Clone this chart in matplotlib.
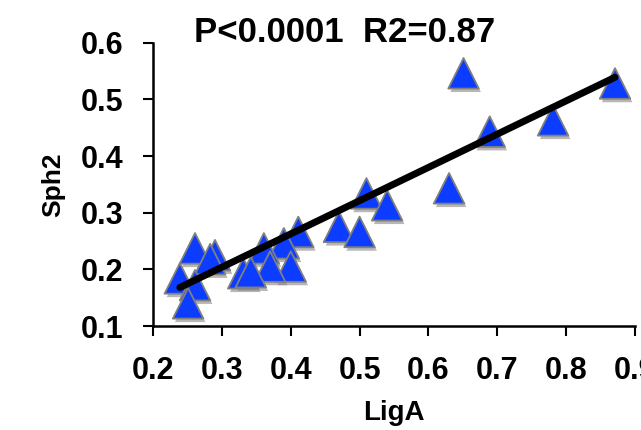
import numpy as np
import matplotlib.pyplot as plt
import matplotlib.patheffects as pe

# values
liga = [0.651, 0.871, 0.689, 0.781, 0.630, 0.510, 0.540, 0.470, 0.500, 0.411,
        0.390, 0.361, 0.400, 0.370, 0.331, 0.342, 0.261, 0.290, 0.283, 0.239,
        0.261, 0.251]
sph2 = [0.546, 0.528, 0.443, 0.463, 0.343, 0.334, 0.313, 0.275, 0.266, 0.266,
        0.246, 0.237, 0.205, 0.205, 0.193, 0.195, 0.237, 0.225, 0.218, 0.184,
        0.172, 0.140]
fit_x = [0.239, 0.871]
fit_y = [0.168, 0.539]
xticks = [0.2, 0.3, 0.4, 0.5, 0.6, 0.7, 0.8, 0.9]
yticks = [0.1, 0.2, 0.3, 0.4, 0.5, 0.6]
title = 'P<0.0001  R2=0.87'

plt.rcParams['font.family'] = ['Liberation Sans', 'DejaVu Sans']
plt.rcParams['font.weight'] = 'bold'

fig = plt.figure(figsize=(6.41, 4.30), dpi=100)
ax = fig.add_axes([153/641, 1-326/430, (635-153)/641, (326-42.7)/430])

shadow = [pe.SimplePatchShadow(offset=(1.5, -2.5), shadow_rgbFace='#888888', alpha=0.6),
          pe.Normal()]
sc = ax.scatter(liga, sph2, marker='^', s=22**2, c='#0B3CFF', edgecolors='#808080',
                linewidths=1.3, zorder=2, clip_on=False)
sc.set_path_effects(shadow)
ax.plot(fit_x, fit_y, color='black', lw=5, solid_capstyle='round', zorder=3)

ax.set_xlim(0.2, 0.9)
ax.set_ylim(0.1, 0.6)
ax.set_xticks(xticks)
ax.set_yticks(yticks)
ax.set_xticklabels([f'{v:.1f}' for v in xticks])
ax.set_yticklabels([f'{v:.1f}' for v in yticks])

for s in ['top', 'right']:
    ax.spines[s].set_visible(False)
for s in ['left', 'bottom']:
    ax.spines[s].set_linewidth(1.8)
ax.tick_params(axis='both', length=7.5, width=1.5, direction='out', labelsize=22, pad=14)

ax.set_xlabel('LigA', fontsize=20, fontweight='bold', labelpad=10)
ax.set_ylabel('Sph2', fontsize=19, fontweight='bold', labelpad=11)

fig.text(344.5/641, 1-33/430, title, ha='center', va='center', fontsize=25,
         fontweight='bold')

fig.savefig('out.png', dpi=100)
